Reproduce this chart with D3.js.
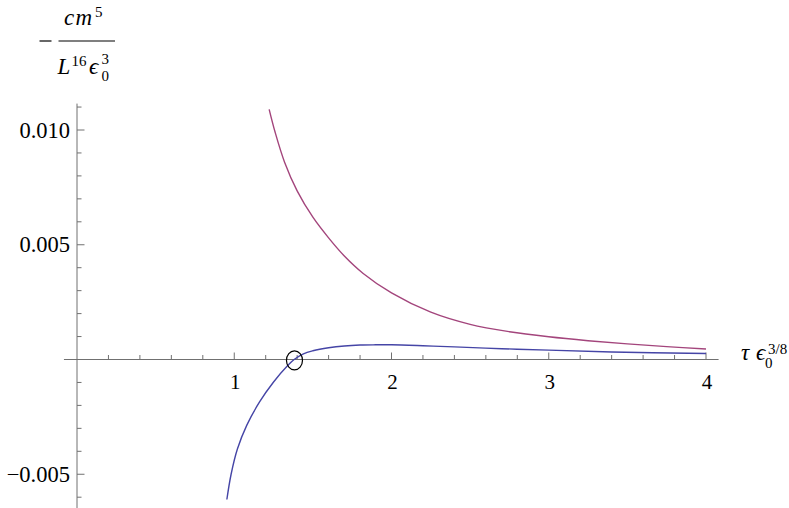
<!DOCTYPE html>
<html>
<head>
<meta charset="utf-8">
<script src="https://cdn.jsdelivr.net/npm/d3@7"></script>
<style>
  body { margin: 0; background: #fff; }
</style>
</head>
<body>
<svg id="chart" width="789" height="508"></svg>
<script>
// values (tau * eps0^(3/8), -c m^5 / (L^16 eps0^3))
const blueT = [0.953, 0.98, 1.02, 1.08, 1.16, 1.25, 1.34, 1.381, 1.44, 1.50, 1.60, 1.70, 1.80, 1.90, 2.00, 2.20, 2.40, 2.70, 3.00, 3.40, 4.00];
const blueV = [-0.0061, -0.0050, -0.0039, -0.00286, -0.00186, -0.00098, -0.00026, 0, 0.00025, 0.00038, 0.00051, 0.00059, 0.00063, 0.00064, 0.00064, 0.00060, 0.00055, 0.00047, 0.00041, 0.00033, 0.00026];

const purpleT = [1.222, 1.26, 1.32, 1.40, 1.50, 1.60, 1.70, 1.82, 2.00, 2.25, 2.50, 2.75, 3.00, 3.25, 3.50, 3.75, 4.00];
const purpleV = [0.0109, 0.0099, 0.0086, 0.00735, 0.0062, 0.0053, 0.00451, 0.00375, 0.0029, 0.00206, 0.00153, 0.00121, 0.00099, 0.00082, 0.00068, 0.00056, 0.00046];

const xMajor = [1, 2, 3, 4];
const xMinor = d3.range(1, 21).map(i => i / 5);
const yMajor = [-0.005, 0.005, 0.010];
const yMinor = d3.range(-6, 12).map(i => i / 1000);
const yLabels = ["\u22120.005", "0.005", "0.010"];

// marked zero crossing
const rootPt = [1.383, -0.00004];

const serif = "'Liberation Serif', 'Times New Roman', Tinos, 'Nimbus Roman', 'DejaVu Serif', serif";

const svg = d3.select("#chart");

const x = d3.scaleLinear().domain([0, 4]).range([77, 706]);
const y = d3.scaleLinear().domain([0, 0.01]).range([359.5, 130]);

const axisColor = "#707070";

// axes lines
svg.append("line")
  .attr("x1", x(-0.083)).attr("x2", x(4.08))
  .attr("y1", y(0)).attr("y2", y(0))
  .attr("stroke", axisColor).attr("stroke-width", 1);
svg.append("line")
  .attr("x1", x(0)).attr("x2", x(0))
  .attr("y1", y(0.01115)).attr("y2", y(-0.0065))
  .attr("stroke", axisColor).attr("stroke-width", 1);

// x ticks (pointing up)
svg.selectAll("line.xt")
  .data(xMinor)
  .enter().append("line")
    .attr("class", "xt")
    .attr("x1", d => x(d)).attr("x2", d => x(d))
    .attr("y1", y(0))
    .attr("y2", d => y(0) - (xMajor.some(m => Math.abs(m - d) < 1e-9) ? 7 : 4.5))
    .attr("stroke", axisColor);

// y ticks (pointing right)
svg.selectAll("line.yt")
  .data(yMinor.filter(d => Math.abs(d) > 1e-9))
  .enter().append("line")
    .attr("class", "yt")
    .attr("y1", d => y(d)).attr("y2", d => y(d))
    .attr("x1", x(0))
    .attr("x2", d => x(0) + (yMajor.some(m => Math.abs(m - d) < 1e-9) ? 7.5 : 4.5))
    .attr("stroke", axisColor);

// tick labels
svg.selectAll("text.xl")
  .data(xMajor)
  .enter().append("text")
    .attr("class", "xl")
    .attr("x", d => x(d) + 1)
    .attr("y", 389)
    .attr("text-anchor", "middle")
    .attr("font-family", serif)
    .attr("font-size", 21)
    .text(d => d);

svg.selectAll("text.yl")
  .data(yMajor)
  .enter().append("text")
    .attr("class", "yl")
    .attr("x", 70)
    .attr("y", d => y(d) + 7.5)
    .attr("text-anchor", "end")
    .attr("font-family", serif)
    .attr("font-size", 22.5)
    .text((d, i) => yLabels[i]);

// curves
const line = d3.line()
  .x(d => x(d[0]))
  .y(d => y(d[1]))
  .curve(d3.curveCatmullRom.alpha(0.5));

svg.append("path")
  .datum(purpleT.map((t, i) => [t, purpleV[i]]))
  .attr("d", line)
  .attr("fill", "none")
  .attr("stroke", "#a3457c")
  .attr("stroke-width", 1.4);

svg.append("path")
  .datum(blueT.map((t, i) => [t, blueV[i]]))
  .attr("d", line)
  .attr("fill", "none")
  .attr("stroke", "#4545a6")
  .attr("stroke-width", 1.4);

// circle at the root
svg.append("ellipse")
  .attr("cx", x(rootPt[0]))
  .attr("cy", y(rootPt[1]))
  .attr("rx", 8)
  .attr("ry", 9.5)
  .attr("fill", "none")
  .attr("stroke", "#000")
  .attr("stroke-width", 1.2);

function label(g, px, py, size, italic, str) {
  g.append("text")
    .attr("x", px).attr("y", py)
    .attr("font-family", serif)
    .attr("font-size", size)
    .attr("font-style", italic ? "italic" : "normal")
    .text(str);
}

// y axis label: - c m^5 / (L^16 eps0^3)
const yl = svg.append("g");
yl.append("line")
  .attr("x1", 39.5).attr("x2", 51.5).attr("y1", 41).attr("y2", 41)
  .attr("stroke", "#000").attr("stroke-width", 1.2);
yl.append("line")
  .attr("x1", 58.5).attr("x2", 115).attr("y1", 41).attr("y2", 41)
  .attr("stroke", "#000").attr("stroke-width", 1.2);
label(yl, 64, 25, 23, true, "c");
label(yl, 75.5, 25, 23, true, "m");
label(yl, 95, 16.5, 15, false, "5");
label(yl, 57.5, 74, 23, true, "L");
label(yl, 71.5, 65.5, 15, false, "16");
label(yl, 89, 74, 23, true, "\u03f5");
label(yl, 101.5, 80.5, 15, false, "0");
label(yl, 101.5, 63.5, 15, false, "3");

// x axis label: tau eps0^(3/8)
const xl = svg.append("g");
label(xl, 741, 360, 23, true, "\u03c4");
label(xl, 756, 360, 23, true, "\u03f5");
label(xl, 765, 367.5, 15, false, "0");
label(xl, 768, 354, 15, false, "3/8");
</script>
</body>
</html>
